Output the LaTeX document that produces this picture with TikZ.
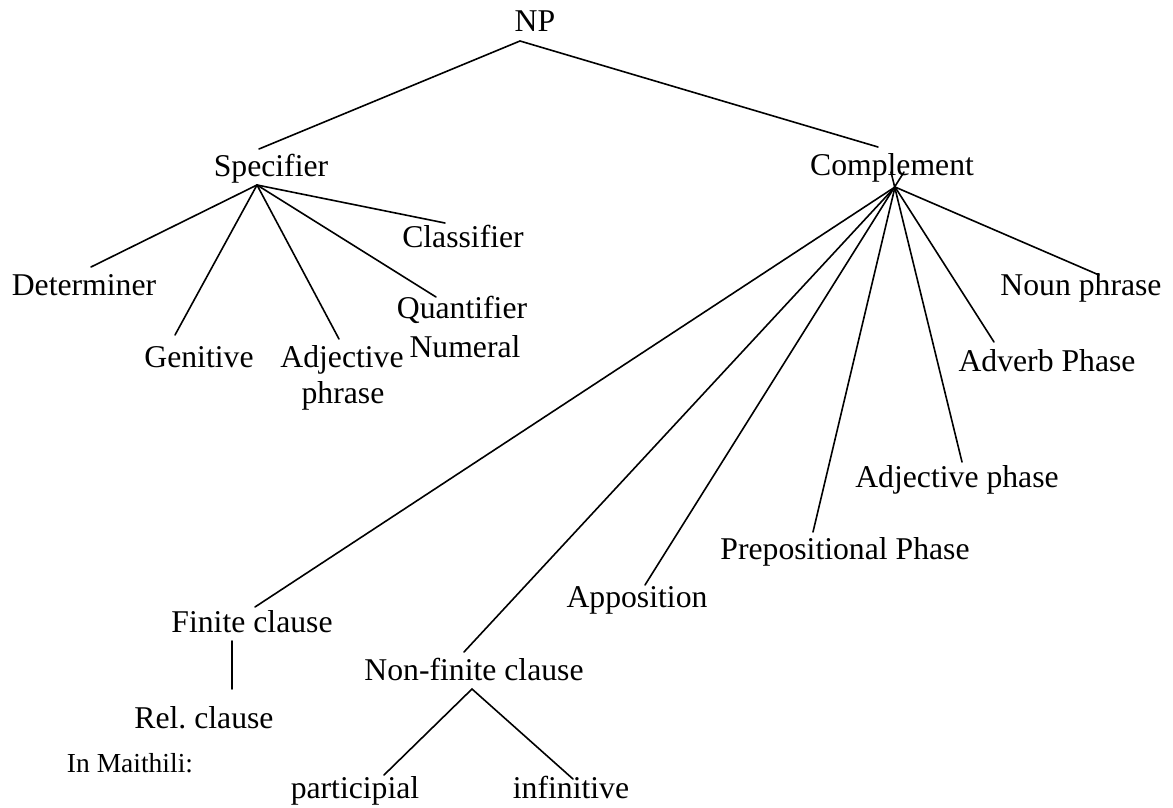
\documentclass[tikz,border=0pt]{standalone}
\usepackage{fontspec}
\setmainfont{Liberation Serif}
\begin{document}
\begin{tikzpicture}[x=1pt,y=-1pt,
  lbl/.style={inner sep=0pt, anchor=base, font=\fontsize{31.7}{36}\selectfont},
  note/.style={inner sep=0pt, anchor=base, font=\fontsize{27.5}{32}\selectfont},
  edge/.style={line width=1.6pt, line cap=round}]
\useasboundingbox (0,0) rectangle (1173,808);

% labels (placed on their baselines)
\node[lbl] (np)     at (535,32)  {NP};
\node[lbl] (spec)   at (271,176) {Specifier};
\node[lbl] (comp)   at (892,175) {Complement};
\node[lbl] (det)    at (84,295)  {Determiner};
\node[lbl] (gen)    at (199,367) {Genitive};
\node[lbl] (adj)    at (342,367) {Adjective};
\node[lbl] (adjb)   at (343,403) {phrase};
\node[lbl] (cls)    at (463,247) {Classifier};
\node[lbl] (quant)  at (462,318) {Quantifier};
\node[lbl] (num)    at (465,357) {Numeral};
\node[lbl] (noun)   at (1081,295) {Noun phrase};
\node[lbl] (adv)    at (1047,371) {Adverb Phase};
\node[lbl] (adjp)   at (957,487) {Adjective phase};
\node[lbl] (prep)   at (845,559) {Prepositional Phase};
\node[lbl] (appo)   at (637,607) {Apposition};
\node[lbl] (fin)    at (252,632) {Finite clause};
\node[lbl] (nonfin) at (474,680) {Non-finite clause};
\node[lbl] (rel)    at (204,728) {Rel.\ clause};
\node[note] (maith) at (130,772) {In Maithili:};
\node[lbl] (part)   at (355,798) {participial};
\node[lbl] (inf)    at (571,798) {infinitive};

% attachment points of the branches
\coordinate (npB)     at (520,41);
\coordinate (specT)   at (259,149);
\coordinate (specB)   at (257,185);
\coordinate (compT)   at (878,147);
\coordinate (compB)   at (895,187);
\coordinate (compXa)  at (891,172);
\coordinate (compXb)  at (904,172);
\coordinate (detT)    at (91,267);
\coordinate (genT)    at (175,335);
\coordinate (adjT)    at (339,339);
\coordinate (quantT)  at (436,297);
\coordinate (clsT)    at (445,223);
\coordinate (nounT)   at (1099,275);
\coordinate (advT)    at (994,342);
\coordinate (adjpT)   at (962,462);
\coordinate (prepT)   at (813,532);
\coordinate (appoT)   at (645,585);
\coordinate (finT)    at (255,607);
\coordinate (finB)    at (232,641);
\coordinate (relT)    at (232,689);
\coordinate (nonfinT) at (464,652);
\coordinate (nonfinB) at (472,689);
\coordinate (partT)   at (384,775);
\coordinate (infT)    at (573,779);

% NP
\draw[edge] (specT) -- (npB) -- (compT);
% Specifier branches
\draw[edge] (specB) -- (detT);
\draw[edge] (specB) -- (genT);
\draw[edge] (specB) -- (adjT);
\draw[edge] (specB) -- (quantT);
\draw[edge] (specB) -- (clsT);
% Complement branches
\draw[edge] (compB) -- (nounT);
\draw[edge] (compB) -- (advT);
\draw[edge] (compXa) -- (adjpT);
\draw[edge] (compB) -- (prepT);
\draw[edge] (compXb) -- (appoT);
\draw[edge] (compB) -- (finT);
\draw[edge] (compB) -- (nonfinT);
% clauses
\draw[edge] (finB) -- (relT);
\draw[edge] (partT) -- (nonfinB) -- (infT);
\end{tikzpicture}
\end{document}
